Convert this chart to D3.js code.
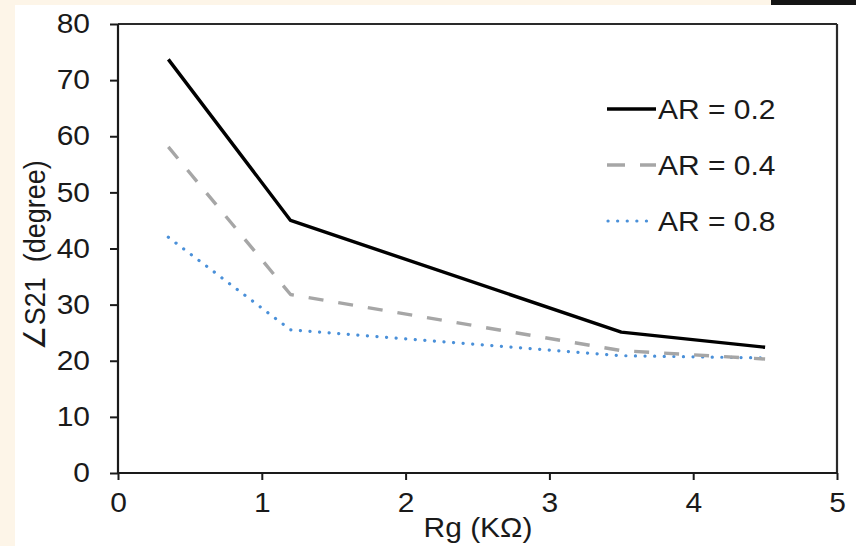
<!DOCTYPE html>
<html><head><meta charset="utf-8">
<script src="https://cdn.jsdelivr.net/npm/d3@7"></script>
<style>
html,body{margin:0;padding:0;background:#fdf5e8;}
svg{display:block;font-family:"Liberation Sans",Arial,sans-serif;}
</style></head>
<body>
<svg id="c" width="856" height="546"></svg>
<script>
const xValues = [0.35, 1.2, 3.5, 4.5];
const ar02 = [73.7, 45.0, 25.1, 22.4];
const ar04 = [58.1, 31.8, 21.8, 20.3];
const ar08 = [42.0, 25.5, 20.9, 20.5];
const seriesNames = ["AR = 0.2", "AR = 0.4", "AR = 0.8"];
const xTicks = [0, 1, 2, 3, 4, 5];
const yTicks = [0, 10, 20, 30, 40, 50, 60, 70, 80];
const xTitle = "Rg (KΩ)";
const yTitle = "∠S21  (degree)";

const FS = 27, SX = 1.11, txt = "#1a1a1a";
const svg = d3.select("#c");
svg.append("rect").attr("x",0).attr("y",0).attr("width",856).attr("height",546).attr("fill","#fdf5e8");
svg.append("rect").attr("x",15).attr("y",5).attr("width",841).attr("height",541).attr("fill","#ffffff");
svg.append("rect").attr("x",771).attr("y",0).attr("width",85).attr("height",5).attr("fill","#141414");

const L = 118, R = 837, T = 24, B = 473;
const x = d3.scaleLinear().domain([0,5]).range([L,R]);
const y = d3.scaleLinear().domain([0,80]).range([B,T]);

const axisColor = "#1a1a1a";
svg.append("line").attr("x1",L).attr("x2",R).attr("y1",T).attr("y2",T).attr("stroke","#2a2a2a").attr("stroke-width",2.2);
svg.append("line").attr("x1",R).attr("x2",R).attr("y1",T).attr("y2",B).attr("stroke","#2a2a2a").attr("stroke-width",2.2);

const xa = svg.append("g").attr("transform",`translate(0,${B})`)
  .call(d3.axisBottom(x).tickValues(xTicks).tickFormat(d3.format("d")).tickSize(7).tickPadding(13));
const ya = svg.append("g").attr("transform",`translate(${L},0)`)
  .call(d3.axisLeft(y).tickValues(yTicks).tickFormat(d3.format("d")).tickSize(8).tickPadding(20));
[xa,ya].forEach(a=>{
  a.select(".domain").attr("stroke",axisColor).attr("stroke-width",2.2);
  a.selectAll(".tick line").attr("stroke",axisColor).attr("stroke-width",2);
  a.selectAll(".tick text").attr("fill",txt).attr("font-size",FS).attr("font-family","Liberation Sans, Arial, sans-serif");
});
xa.select(".domain").attr("d",`M${L},0H${R}`);
ya.select(".domain").attr("d",`M0,${T}V${B}`);
xa.selectAll(".tick text").attr("transform",`scale(${SX},1)`);
ya.selectAll(".tick text").attr("x",-28/SX).attr("transform",`scale(${SX},1)`);

svg.append("text").attr("transform",`translate(478,537) scale(${SX},1)`).attr("text-anchor","middle")
  .attr("font-size",FS).attr("fill",txt).text(xTitle);
svg.append("text").attr("transform",`translate(45,255) scale(${SX},1) rotate(-90)`).attr("text-anchor","middle")
  .attr("font-size",FS).attr("fill",txt).style("white-space","pre").attr("xml:space","preserve").text(yTitle);

const styles = [
  {data: ar02, color:"#000000", width:3.4, dash:null, cap:"butt"},
  {data: ar04, color:"#a6a6a6", width:3.4, dash:"15,15", cap:"butt"},
  {data: ar08, color:"#4a90d9", width:3.2, dash:"0.1,9.5", cap:"round"}
];
const line = d3.line().x((d,i)=>x(xValues[i])).y(d=>y(d));
styles.slice().reverse().forEach(s=>{
  const p = svg.append("path").datum(s.data).attr("d",line).attr("fill","none")
    .attr("stroke",s.color).attr("stroke-width",s.width).attr("stroke-linecap",s.cap).attr("stroke-linejoin","round");
  if (s.dash) p.attr("stroke-dasharray",s.dash);
});

const lg = svg.append("g");
styles.forEach((s,i)=>{
  const yy = 109 + i*56;
  const l = lg.append("line").attr("x1",607).attr("x2",656).attr("y1",yy).attr("y2",yy)
    .attr("stroke",s.color).attr("stroke-width",s.width).attr("stroke-linecap",s.cap);
  if (i===1) l.attr("stroke-dasharray","18,15");
  if (i===2) l.attr("stroke-dasharray","0.1,9.5").attr("x1",608).attr("x2",650);
  lg.append("text").attr("transform",`translate(658,${yy+9.5}) scale(${SX},1)`)
    .attr("font-size",FS).attr("fill",txt).text(seriesNames[i]);
});
</script>
</body></html>
